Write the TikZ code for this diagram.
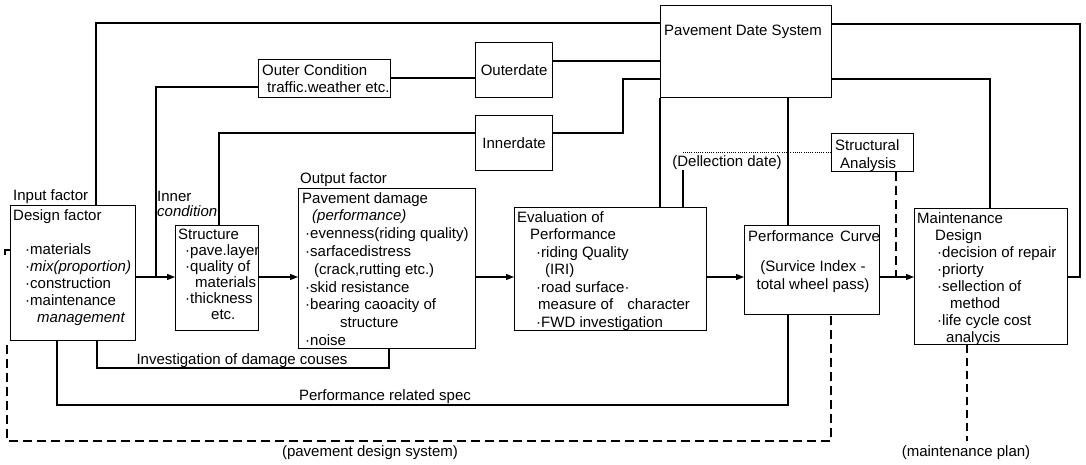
\documentclass[tikz,border=0pt]{standalone}
\usepackage{fontspec}
\setmainfont{Liberation Sans}
\usetikzlibrary{arrows.meta}
\begin{document}
\begin{tikzpicture}[x=1pt,y=-1pt,
  box/.style={draw, line width=1.2pt, inner sep=0pt, anchor=north west, font=\fontsize{15}{17}\selectfont},
  txt/.style={inner sep=0pt, align=left, anchor=north west, font=\fontsize{15}{17}\selectfont},
  lbl/.style={inner sep=0pt, font=\fontsize{15}{17}\selectfont},
  ln/.style={line width=1.2pt},
  arr/.style={line width=1.2pt, -{Triangle[length=8pt,width=6pt]}},
  bigdash/.style={line width=1.8pt, dash pattern=on 9pt off 5pt},
  middash/.style={line width=1.5pt, dash pattern=on 8pt off 5pt},
  dotline/.style={line width=0.8pt, dash pattern=on 1pt off 1.2pt}]
\fill[white] (0,0) rectangle (1086,464);
\useasboundingbox (0,0) rectangle (1086,464);

% boxes
\node[box, minimum width=125pt, minimum height=135pt] (inp) at (10,205) {};
\node[box, minimum width=83pt, minimum height=105pt] (str) at (175,225) {};
\node[box, minimum width=177pt, minimum height=160pt] (out) at (298,188) {};
\node[box, minimum width=192pt, minimum height=123pt] (ev) at (514,207) {};
\node[box, minimum width=135pt, minimum height=89pt] (pc) at (744,225) {};
\node[box, minimum width=153pt, minimum height=136pt] (mnt) at (914,208) {};
\node[box, minimum width=82pt, minimum height=38pt] (sa) at (831,133) {};
\node[box, minimum width=171pt, minimum height=92pt] (pds) at (660,5) {};
\node[box, minimum width=132pt, minimum height=38pt] (oc) at (258,59) {};
\node[box, minimum width=77pt, minimum height=55pt] (od) at (475,42) {Outerdate};
\node[box, minimum width=77pt, minimum height=55pt] (id) at (475,115) {Innerdate};

% texts
\node[lbl, anchor=west] (inpL) at (13,197) {Input factor};
\node[txt] (inpT) at (13,209) {Design factor\\[17pt]
\hspace*{12pt}·materials\\
\hspace*{12pt}·\textit{mix(proportion)}\\
\hspace*{12pt}·construction\\
\hspace*{12pt}·maintenance\\
\hspace*{24pt}\textit{management}};
\node[txt, font=\fontsize{15}{15}\selectfont] (innL) at (157,191) {Inner\\\textit{condition}};
\node[txt, font=\fontsize{15}{16}\selectfont] (strT) at (178,229) {Structure\\
\hspace*{7pt}·pave.layer\\
\hspace*{7pt}·quality of\\
\hspace*{17pt}materials\\
\hspace*{7pt}·thickness\\
\hspace*{33pt}etc.};
\node[lbl, anchor=west] (outL) at (300,180) {Output factor};
\node[txt, font=\fontsize{15}{17.8}\selectfont] (outT) at (302,192) {Pavement damage\\
\hspace*{10pt}\textit{(performance)}\\
\hspace*{3pt}·evenness(riding quality)\\
\hspace*{3pt}·sarfacedistress\\
\hspace*{12pt}(crack,rutting etc.)\\
\hspace*{3pt}·skid resistance\\
\hspace*{3pt}·bearing caoacity of\\
\hspace*{38pt}structure\\
\hspace*{3pt}·noise};
\node[txt, font=\fontsize{15}{17.5}\selectfont] (evT) at (517,211) {Evaluation of\\
\hspace*{13pt}Performance\\
\hspace*{19pt}·riding Quality\\
\hspace*{28pt}(IRI)\\
\hspace*{19pt}·road surface·\\
\hspace*{21pt}measure of\hspace{10pt} character\\
\hspace*{19pt}·FWD investigation};
\node[txt] (pcT) at (748,230) {Performance\hspace{6pt}Curve};
\node[lbl, align=center, font=\fontsize{15}{18}\selectfont] (pcT2) at (813,277) {(Survice Index -\\total wheel pass)};
\node[txt, font=\fontsize{15}{17}\selectfont] (mntT) at (917,212) {Maintenance\\
\hspace*{18pt}Design\\
\hspace*{20pt}·decision of repair\\
\hspace*{20pt}·priorty\\
\hspace*{20pt}·sellection of\\
\hspace*{33pt}method\\
\hspace*{20pt}·life cycle cost\\
\hspace*{29pt}analycis};
\node[txt, font=\fontsize{15}{18}\selectfont] (saT) at (835,139) {Structural\\\hspace*{5pt}Analysis};
\node[lbl, anchor=west] (pdsT) at (664,32) {Pavement Date System};
\node[txt] (ocT) at (262,64) {Outer Condition\\\hspace*{5pt}traffic.weather etc.};
\node[lbl] (dell) at (727,163) {(Dellection date)};
\node[lbl] (invL) at (242,361) {Investigation of damage couses};
\node[lbl] (prsL) at (385,397) {Performance related spec};
\node[lbl] (pdsL) at (370,453) {(pavement design system)};
\node[lbl] (mpL) at (966,453) {(maintenance plan)};

% bend coordinates
\coordinate (ay) at (0,277);
\coordinate (c1) at (96,23);
\coordinate (c2) at (156,87);
\coordinate (c3) at (0,78);
\coordinate (c4) at (0,61);
\coordinate (c5) at (623,133);
\coordinate (c6) at (0,79);
\coordinate (c7) at (219,133);
\coordinate (c8) at (1080,24);
\coordinate (c9) at (990,79);
\coordinate (c10) at (788,0);
\coordinate (c11) at (683,152);
\coordinate (c12) at (896,0);
\coordinate (c13) at (97,368);
\coordinate (c14) at (389,368);
\coordinate (c15) at (57,405);
\coordinate (c16) at (7,441);
\coordinate (c17) at (831,0);
\coordinate (c18) at (7,345);
\coordinate (c19) at (0,250);
\coordinate (c20) at (967,441);

% connectors
\draw[ln] (inp.north -| c1) |- (pds.west |- c1);
\draw[ln] (oc.west |- c2) -| (c2 |- ay);
\draw[ln] (oc.east |- c3) -- (od.west |- c3);
\draw[ln] (od.east |- c4) -- (pds.west |- c4);
\draw[ln] (id.east |- c5) -| (c5 |- c6) -- (pds.west |- c6);
\draw[ln] (id.west |- c7) -| (str.north -| c7);
\draw[arr] (inp.east |- ay) -- (str.west |- ay);
\draw[arr] (str.east |- ay) -- (out.west |- ay);
\draw[arr] (out.east |- ay) -- (ev.west |- ay);
\draw[arr] (ev.east |- ay) -- (pc.west |- ay);
\draw[arr] (pc.east |- ay) -- (mnt.west |- ay);
\draw[ln] (mnt.east |- ay) -| (c8) -- (pds.east |- c8);
\draw[ln] (mnt.north -| c9) |- (pds.east |- c9);
\draw[ln] (pds.south west) -- (ev.north -| pds.south west);
\draw[ln] (pds.south -| c10) -- (pc.north -| c10);
\draw[dotline] (sa.west |- c11) -- (c11);
\draw[ln] (dell.south -| c11) -- (ev.north -| c11);
\draw[bigdash] (sa.south -| c12) -- (c12 |- ay);
\draw[ln] (inp.south -| c13) |- (c14) -- (out.south -| c14);
\draw[ln] (inp.south -| c15) |- (c10 |- c15) -- (pc.south -| c10);
\draw[ln] (inp.west |- c19) -- ++(-5,0) -- ++(0,5);
\draw[bigdash] (c18) -- (c16) -| (pc.south -| c17);
\draw[middash] (mnt.south -| c20) -- (c20);
\end{tikzpicture}
\end{document}
